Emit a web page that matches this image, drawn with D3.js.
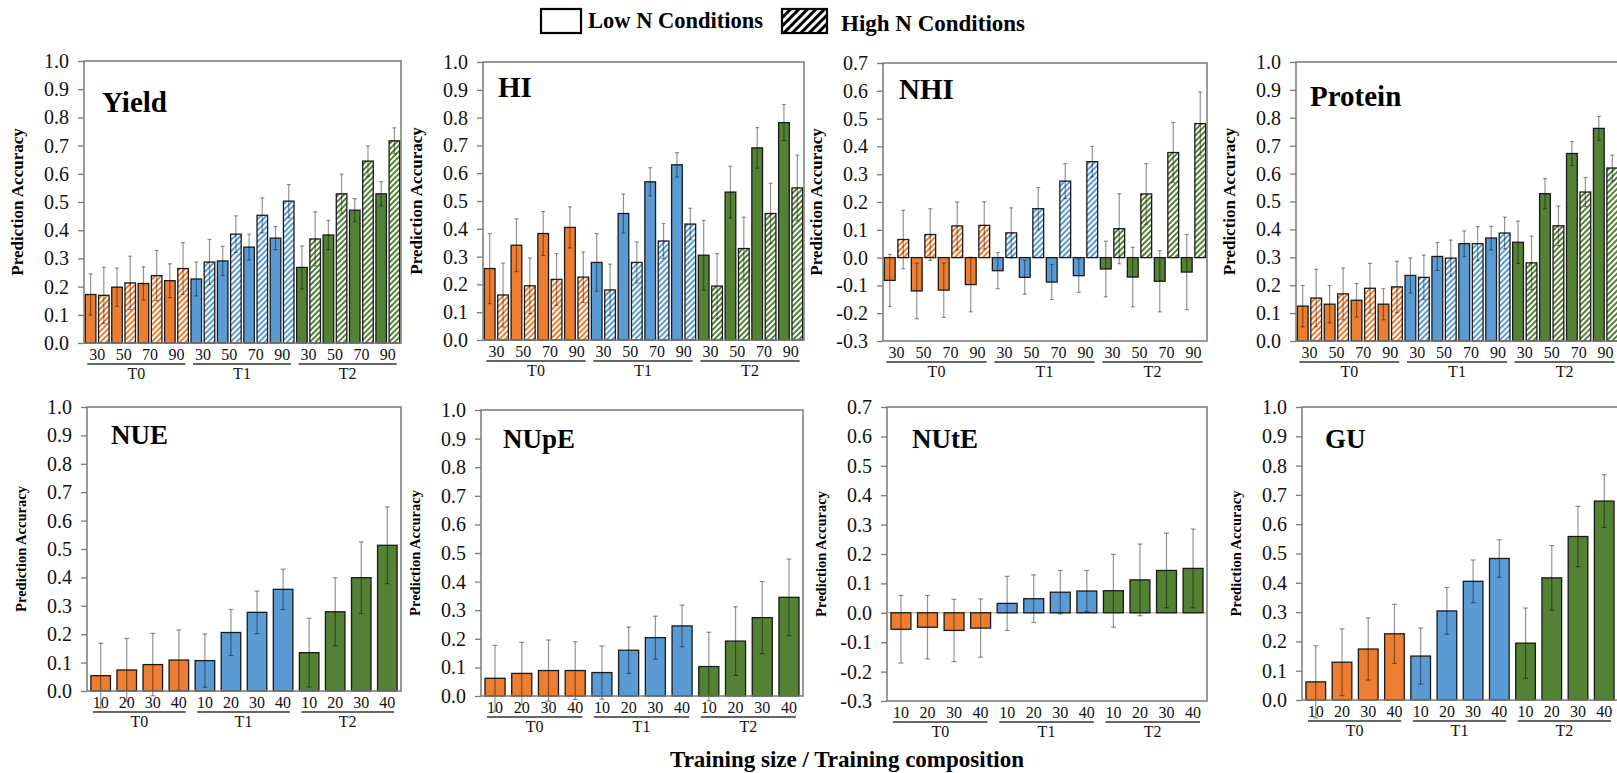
<!DOCTYPE html>
<html>
<head>
<meta charset="utf-8">
<script src="https://cdn.jsdelivr.net/npm/d3@7"></script>
<style>
body { margin: 0; background: #fff; }
svg { display: block; font-family: "Liberation Serif", "Times New Roman", serif; }
svg text { font-family: "Liberation Serif", "Times New Roman", serif; }
</style>
</head>
<body>
<svg id="chart" width="1617" height="773"></svg>
<script>
var groups = ["T0", "T1", "T2"];
var topSizes = ["30", "50", "70", "90"];
var bottomSizes = ["10", "20", "30", "40"];

// top row: 12 values = T0(30,50,70,90), T1(...), T2(...)
var yieldLow = [0.172, 0.198, 0.211, 0.221, 0.227, 0.291, 0.340, 0.372, 0.268, 0.383, 0.471, 0.529];
var yieldLowErr = [0.073, 0.068, 0.059, 0.060, 0.060, 0.052, 0.046, 0.041, 0.076, 0.052, 0.041, 0.043];
var yieldHigh = [0.169, 0.213, 0.239, 0.264, 0.287, 0.386, 0.453, 0.503, 0.369, 0.529, 0.645, 0.717];
var yieldHighErr = [0.100, 0.095, 0.089, 0.092, 0.080, 0.065, 0.062, 0.059, 0.096, 0.070, 0.054, 0.046];

var hiLow = [0.257, 0.341, 0.383, 0.405, 0.279, 0.455, 0.569, 0.630, 0.305, 0.532, 0.691, 0.782];
var hiLowErr = [0.126, 0.095, 0.079, 0.074, 0.104, 0.070, 0.051, 0.044, 0.125, 0.093, 0.073, 0.065];
var hiHigh = [0.162, 0.195, 0.218, 0.226, 0.180, 0.279, 0.356, 0.417, 0.194, 0.329, 0.455, 0.547];
var hiHighErr = [0.115, 0.100, 0.093, 0.091, 0.093, 0.074, 0.063, 0.057, 0.117, 0.113, 0.109, 0.118];

var nhiLow = [-0.082, -0.120, -0.117, -0.097, -0.047, -0.071, -0.088, -0.065, -0.041, -0.070, -0.085, -0.052];
var nhiLowErr = [0.094, 0.100, 0.098, 0.098, 0.065, 0.061, 0.063, 0.060, 0.100, 0.107, 0.110, 0.135];
var nhiHigh = [0.065, 0.083, 0.114, 0.116, 0.089, 0.176, 0.275, 0.345, 0.104, 0.229, 0.378, 0.482];
var nhiHighErr = [0.105, 0.093, 0.086, 0.085, 0.090, 0.076, 0.063, 0.055, 0.126, 0.109, 0.108, 0.114];

var proteinLow = [0.125, 0.132, 0.146, 0.132, 0.235, 0.303, 0.349, 0.369, 0.354, 0.528, 0.672, 0.762];
var proteinLowErr = [0.074, 0.067, 0.060, 0.056, 0.063, 0.050, 0.046, 0.042, 0.076, 0.054, 0.043, 0.043];
var proteinHigh = [0.154, 0.169, 0.189, 0.194, 0.228, 0.297, 0.349, 0.387, 0.280, 0.413, 0.534, 0.620];
var proteinHighErr = [0.103, 0.093, 0.089, 0.092, 0.080, 0.065, 0.061, 0.057, 0.096, 0.071, 0.052, 0.046];

// bottom row: 12 values = T0(10,20,30,40), T1(...), T2(...)
var nue = [0.054, 0.074, 0.093, 0.109, 0.107, 0.206, 0.277, 0.358, 0.135, 0.279, 0.399, 0.513];
var nueErr = [0.114, 0.111, 0.110, 0.106, 0.094, 0.081, 0.075, 0.071, 0.121, 0.120, 0.126, 0.135];
var nupe = [0.062, 0.079, 0.089, 0.089, 0.082, 0.160, 0.204, 0.245, 0.103, 0.192, 0.274, 0.345];
var nupeErr = [0.115, 0.109, 0.107, 0.101, 0.093, 0.081, 0.075, 0.073, 0.120, 0.120, 0.126, 0.134];
var nute = [-0.056, -0.049, -0.060, -0.052, 0.032, 0.048, 0.070, 0.074, 0.075, 0.112, 0.144, 0.151];
var nuteErr = [0.115, 0.108, 0.106, 0.099, 0.092, 0.081, 0.074, 0.070, 0.124, 0.122, 0.127, 0.134];
var gu = [0.062, 0.129, 0.174, 0.226, 0.150, 0.304, 0.405, 0.483, 0.194, 0.417, 0.558, 0.679];
var guErr = [0.123, 0.114, 0.106, 0.101, 0.096, 0.080, 0.073, 0.064, 0.120, 0.110, 0.103, 0.090];

var colors = {T0: "#ED7D31", T1: "#5B9BD5", T2: "#548235"};

var svg = d3.select("#chart");
var defs = svg.append("defs");

// hatch patterns for High N bars
groups.forEach(function(g) {
  var p = defs.append("pattern")
    .attr("id", "hatch-" + g)
    .attr("patternUnits", "userSpaceOnUse")
    .attr("width", 4).attr("height", 4)
    .attr("patternTransform", "rotate(45)");
  p.append("rect").attr("width", 4).attr("height", 4).attr("fill", "#fff");
  p.append("rect").attr("width", 2).attr("height", 4).attr("fill", colors[g]);
});
var lp = defs.append("pattern")
  .attr("id", "hatch-legend")
  .attr("patternUnits", "userSpaceOnUse")
  .attr("width", 6).attr("height", 6)
  .attr("patternTransform", "rotate(45)");
lp.append("rect").attr("width", 6).attr("height", 6).attr("fill", "#fff");
lp.append("rect").attr("width", 3).attr("height", 6).attr("fill", "#000");

function topRows(low, lowErr, high, highErr) {
  var rows = [];
  groups.forEach(function(g, gi) {
    topSizes.forEach(function(s, si) {
      var i = gi * 4 + si;
      rows.push({group: g, size: s, cond: "Low", v: low[i], e: lowErr[i]});
      rows.push({group: g, size: s, cond: "High", v: high[i], e: highErr[i]});
    });
  });
  return rows;
}
function bottomRows(vals, errs) {
  var rows = [];
  groups.forEach(function(g, gi) {
    bottomSizes.forEach(function(s, si) {
      var i = gi * 4 + si;
      rows.push({group: g, size: s, cond: "Low", v: vals[i], e: errs[i]});
    });
  });
  return rows;
}

var panels = [
  {title: "Yield", rows: topRows(yieldLow, yieldLowErr, yieldHigh, yieldHighErr), x0: 84, x1: 401, y0: 61, y1: 343, min: 0, max: 1, tx: 18, ty: 51, top: true},
  {title: "HI", rows: topRows(hiLow, hiLowErr, hiHigh, hiHighErr), x0: 483, x1: 804, y0: 62, y1: 340, min: 0, max: 1, tx: 15, ty: 35, top: true},
  {title: "NHI", rows: topRows(nhiLow, nhiLowErr, nhiHigh, nhiHighErr), x0: 883, x1: 1207, y0: 63, y1: 341, min: -0.3, max: 0.7, tx: 16, ty: 36, top: true},
  {title: "Protein", rows: topRows(proteinLow, proteinLowErr, proteinHigh, proteinHighErr), x0: 1296, x1: 1619, y0: 62, y1: 341, min: 0, max: 1, tx: 14, ty: 44, top: true},
  {title: "NUE", rows: bottomRows(nue, nueErr), x0: 87, x1: 401, y0: 407, y1: 691, min: 0, max: 1, tx: 24, ty: 37, top: false},
  {title: "NUpE", rows: bottomRows(nupe, nupeErr), x0: 481, x1: 803, y0: 410, y1: 696, min: 0, max: 1, tx: 22, ty: 38, top: false},
  {title: "NUtE", rows: bottomRows(nute, nuteErr), x0: 887, x1: 1207, y0: 407, y1: 701, min: -0.3, max: 0.7, tx: 25, ty: 41, top: false},
  {title: "GU", rows: bottomRows(gu, guErr), x0: 1302, x1: 1618, y0: 407, y1: 700, min: 0, max: 1, tx: 23, ty: 41, top: false}
];

panels.forEach(function(p) {
  var g = svg.append("g");
  var keys = p.rows.map(function(d, i) { return i; });
  var x = d3.scaleBand().domain(keys).range([p.x0, p.x1])
    .paddingInner(p.top ? 0.2 : 0.25).paddingOuter(p.top ? 0.1 : 0.15);
  var y = d3.scaleLinear().domain([p.min, p.max]).range([p.y1, p.y0]);
  var ticks = d3.range(11).map(function(i) { return Math.round((p.min + i * 0.1) * 10) / 10; });

  var yAxis = d3.axisLeft(y).tickValues(ticks)
    .tickFormat(function(d) { return d.toFixed(1); })
    .tickSize(6).tickSizeOuter(0).tickPadding(9);
  var ax = g.append("g").attr("transform", "translate(" + p.x0 + ",0)").call(yAxis);
  ax.attr("font-family", null).attr("font-size", null);
  ax.select(".domain").remove();
  ax.selectAll(".tick line").attr("stroke", "#7a7a7a").attr("stroke-width", 1.3);
  ax.selectAll(".tick text")
    .style("font-size", "20px").style("fill", "#111");

  if (p.min < 0) {
    g.append("line").attr("x1", p.x0).attr("x2", p.x1)
      .attr("y1", y(0)).attr("y2", y(0))
      .attr("stroke", "#9a9a9a").attr("stroke-width", 1);
  }

  var bw = x.bandwidth();
  g.selectAll("rect.bar").data(p.rows).enter().append("rect")
    .attr("class", "bar")
    .attr("x", function(d, i) { return x(i); })
    .attr("width", bw)
    .attr("y", function(d) { return y(Math.max(0, d.v)); })
    .attr("height", function(d) { return Math.abs(y(d.v) - y(0)); })
    .attr("fill", function(d) { return d.cond === "Low" ? colors[d.group] : "url(#hatch-" + d.group + ")"; })
    .attr("stroke", "#1a1a1a").attr("stroke-width", 1.3);

  var cap = p.top ? 2 : 2.5;
  var eb = g.selectAll("g.err").data(p.rows).enter().append("g")
    .attr("stroke", "#000").attr("stroke-opacity", 0.42).attr("stroke-width", 1.2);
  eb.append("line")
    .attr("x1", function(d, i) { return x(i) + bw / 2; })
    .attr("x2", function(d, i) { return x(i) + bw / 2; })
    .attr("y1", function(d) { return y(d.v - d.e); })
    .attr("y2", function(d) { return y(d.v + d.e); });
  [-1, 1].forEach(function(s) {
    eb.append("line")
      .attr("x1", function(d, i) { return x(i) + bw / 2 - cap; })
      .attr("x2", function(d, i) { return x(i) + bw / 2 + cap; })
      .attr("y1", function(d) { return y(d.v + s * d.e); })
      .attr("y2", function(d) { return y(d.v + s * d.e); });
  });

  // frame
  g.append("rect").attr("x", p.x0).attr("y", p.y0)
    .attr("width", p.x1 - p.x0).attr("height", p.y1 - p.y0)
    .attr("fill", "none").attr("stroke", "#7a7a7a").attr("stroke-width", 1.5);

  // size labels
  var per = p.top ? 2 : 1;
  var sizeLabels = p.rows.filter(function(d, i) { return i % per === 0; });
  g.selectAll("text.size").data(sizeLabels).enter().append("text")
    .attr("x", function(d, i) { return x(i * per) + (per * x.step() - (x.step() - bw)) / 2; })
    .attr("y", p.y1 + 17)
    .attr("text-anchor", "middle").style("font-size", "16px").style("fill", "#111")
    .text(function(d) { return d.size; });

  // group underlines and labels
  var n = p.rows.length / groups.length;
  groups.forEach(function(gr, gi) {
    var a = x(gi * n) + 2;
    var b = x(gi * n + n - 1) + bw - 3;
    g.append("line").attr("x1", a).attr("x2", b)
      .attr("y1", p.y1 + 21).attr("y2", p.y1 + 21)
      .attr("stroke", "#333").attr("stroke-width", 1.4);
    g.append("text").attr("x", (a + b) / 2).attr("y", p.y1 + 36)
      .attr("text-anchor", "middle").style("font-size", "16px").style("fill", "#111")
      .text(gr);
  });

  // panel title
  g.append("text").attr("x", p.x0 + p.tx).attr("y", p.y0 + p.ty)
    .style("font-size", p.top ? "29px" : "27px").style("font-weight", "bold").style("fill", "#000")
    .text(p.title);

  // y axis title
  var cy = (p.y0 + p.y1) / 2;
  g.append("text")
    .attr("transform", "translate(" + (p.x0 - 61) + "," + cy + ") rotate(-90)")
    .attr("text-anchor", "middle").style("font-size", p.top ? "17px" : "14.5px")
    .style("font-weight", "bold").style("fill", "#000")
    .text("Prediction Accuracy");
});

// legend
svg.append("rect").attr("x", 541).attr("y", 9).attr("width", 40).attr("height", 24)
  .attr("fill", "#fff").attr("stroke", "#000").attr("stroke-width", 2.2);
svg.append("text").attr("x", 588).attr("y", 28).style("font-size", "22.5px").style("font-weight", "bold")
  .text("Low N Conditions");
svg.append("rect").attr("x", 782).attr("y", 9).attr("width", 45).attr("height", 24)
  .attr("fill", "url(#hatch-legend)").attr("stroke", "#000").attr("stroke-width", 2.2);
svg.append("text").attr("x", 841).attr("y", 31).style("font-size", "23px").style("font-weight", "bold")
  .text("High N Conditions");

// x axis title
svg.append("text").attr("x", 847).attr("y", 767).attr("text-anchor", "middle")
  .style("font-size", "23px").style("font-weight", "bold")
  .text("Training size / Training composition");
</script>
</body>
</html>
